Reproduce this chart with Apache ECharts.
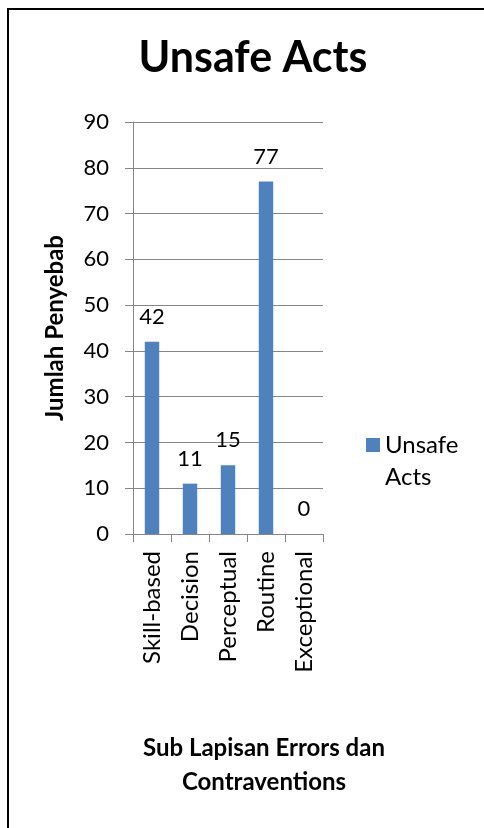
<!DOCTYPE html>
<html>
<head>
<meta charset="utf-8">
<script src="https://cdn.jsdelivr.net/npm/echarts@6/dist/echarts.min.js"></script>
<style>
html,body{margin:0;padding:0;background:#fff;}
#c{width:484px;height:828px;}
</style>
</head>
<body>
<div id="c"></div>
<script>
var categories = ['Skill-based', 'Decision', 'Perceptual', 'Routine', 'Exceptional'];
var unsafeActs = [42, 11, 15, 77, 0];
var seriesName = 'Unsafe Acts';
var yMin = 0, yMax = 90, yStep = 10;

var FONT = 'Lato';
var chart = echarts.init(document.getElementById('c'), null, {renderer: 'canvas'});
chart.setOption({
  backgroundColor: '#fff',
  animation: false,
  graphic: [{
    type: 'rect',
    shape: {x: 8, y: 9, width: 520, height: 900},
    style: {fill: 'none', stroke: '#000', lineWidth: 2},
    silent: true
  }],
  title: {
    text: 'Unsafe Acts',
    left: 248, top: 32, textAlign: 'center',
    textStyle: {fontFamily: FONT, fontWeight: 'bold', fontSize: 43, color: '#000'}
  },
  legend: {
    data: [seriesName],
    left: 366, top: 397,
    padding: 0,
    orient: 'vertical',
    icon: 'rect', itemWidth: 14, itemHeight: 14,
    formatter: function () { return ' \nUnsafe\nActs'; },
    textStyle: {fontFamily: FONT, fontSize: 24, color: '#000', lineHeight: 32}
  },
  grid: {left: 133, right: 161, top: 122, bottom: 294, containLabel: false},
  xAxis: {
    type: 'category',
    data: categories,
    name: 'Sub Lapisan Errors dan\nContraventions',
    nameLocation: 'middle',
    nameGap: 197,
    nameTextStyle: {fontFamily: FONT, fontWeight: 'bold', fontSize: 24, color: '#000', lineHeight: 34, padding: [0, 0, 0, 72]},
    axisLine: {show: true, lineStyle: {color: '#868686', width: 1}},
    axisTick: {show: true, length: 8, alignWithLabel: false, lineStyle: {color: '#868686'}},
    axisLabel: {rotate: 90, margin: 17, fontFamily: FONT, fontSize: 24, color: '#000'},
    splitLine: {show: false}
  },
  yAxis: {
    type: 'value',
    min: yMin, max: yMax, interval: yStep,
    name: 'Jumlah Penyebab',
    nameLocation: 'middle',
    nameRotate: 90,
    nameGap: 66,
    nameTextStyle: {fontFamily: FONT, fontWeight: 'bold', fontSize: 24, color: '#000'},
    axisLine: {show: true, lineStyle: {color: '#868686', width: 1}},
    axisTick: {show: true, inside: false, length: 8, lineStyle: {color: '#868686'}},
    axisLabel: {margin: 24, fontFamily: FONT, fontSize: 22, color: '#000'},
    splitLine: {show: true, lineStyle: {color: '#868686', width: 1}}
  },
  series: [{
    name: seriesName,
    type: 'bar',
    data: unsafeActs,
    barWidth: '38%',
    itemStyle: {color: '#4F81BD'},
    label: {show: true, position: 'top', distance: 14, fontFamily: FONT, fontSize: 22, color: '#000'}
  }]
});
</script>
</body>
</html>
